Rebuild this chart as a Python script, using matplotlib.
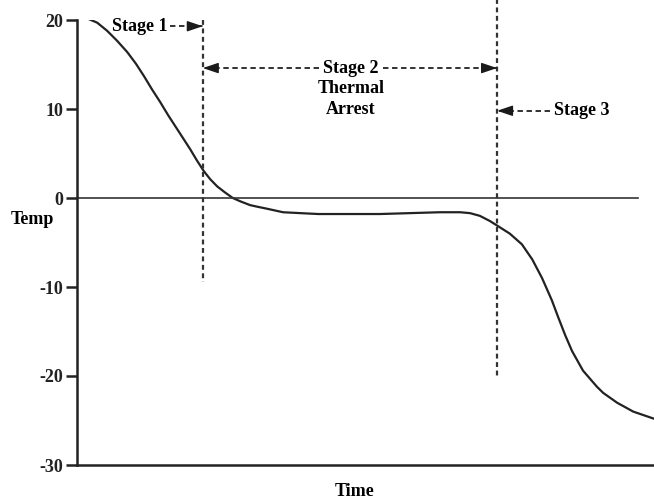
import numpy as np
import matplotlib.pyplot as plt

# cooling curve (time in arbitrary units 0-100)
time = [1.7, 3.5, 5.2, 6.9, 8.7, 10.2, 11.6, 13.0, 14.4, 15.8, 17.3, 18.5,
        19.6, 20.8, 22.0, 23.1, 24.3, 25.7, 27.0, 28.4, 30.0, 31.4, 32.9,
        35.7, 38.7, 41.8, 47.3, 52.5, 57.7, 62.9, 66.4, 68.1, 69.8, 71.6,
        73.3, 75.0, 77.1, 78.9, 80.6, 82.3, 83.4, 84.6, 85.8, 87.7, 90.1,
        91.2, 93.6, 96.4, 100.0]
temp = [20.2, 19.7, 18.8, 17.7, 16.4, 15.1, 13.7, 12.2, 10.8, 9.3, 7.8, 6.6,
        5.5, 4.2, 3.0, 2.1, 1.3, 0.6, 0.0, -0.4, -0.8, -1.0, -1.2,
        -1.6, -1.7, -1.8, -1.8, -1.8, -1.7, -1.6, -1.6, -1.7, -2.0, -2.6,
        -3.3, -4.0, -5.2, -6.9, -9.0, -11.5, -13.4, -15.4, -17.2, -19.4, -21.2,
        -21.9, -23.0, -24.0, -24.8]

yticks = [20, 10, 0, -10, -20, -30]

# stage boundaries
t_stage1 = 21.8
t_stage2 = 72.8

plt.rcParams['font.family'] = ['Liberation Serif', 'DejaVu Serif']
plt.rcParams['font.weight'] = 'bold'

fig = plt.figure(figsize=(6.54, 5.04), dpi=100)
ax = fig.add_axes([77 / 654, 39 / 504, 577 / 654, 445 / 504])

ax.plot(time, temp, color='#222222', lw=1.6)
ax.axhline(0, xmax=0.972, color='#333333', lw=1.2)

dash = (0, (2.2, 1.6))
ax.plot([t_stage1, t_stage1], [20, -9.4], color='#333333', lw=1.6, ls=dash)
ax.plot([t_stage2, t_stage2], [22.5, -20.1], color='#333333', lw=1.6, ls=dash,
        clip_on=False)

ax.set_xlim(0, 100)
ax.set_ylim(-30, 20)
ax.set_yticks(yticks)
ax.set_yticklabels([str(v) for v in yticks], fontsize=13, fontweight='bold',
                   color='#222222')
ax.set_xticks([])
ax.tick_params(axis='y', length=8, width=1.8, pad=2, color='#222222')
for s in ['top', 'right']:
    ax.spines[s].set_visible(False)
ax.spines['left'].set_linewidth(1.8)
ax.spines['bottom'].set_linewidth(1.8)
ax.spines['left'].set_color('#222222')
ax.spines['bottom'].set_color('#222222')

fs = 13
head = dict(arrowstyle='-|>,head_length=0.95,head_width=0.32',
            color='#1a1a1a', lw=1.0, shrinkA=0, shrinkB=0)


def dashed_arrow(x0, x1, y):
    # dashed shaft from x0 to x1, solid head at x1
    ax.plot([x0, x1], [y, y], color='#222222', lw=1.3, ls=(0, (3, 2)))
    step = 1.5 if x1 > x0 else -1.5
    ax.annotate('', xy=(x1, y), xytext=(x1 - step, y), arrowprops=head)


# stage 1
ax.text(15.6, 19.3, 'Stage 1', ha='right', va='center', fontsize=fs,
        fontweight='bold')
dashed_arrow(16.2, t_stage1, 19.3)

# stage 2
dashed_arrow(42.0, t_stage1, 14.6)
dashed_arrow(53.0, t_stage2, 14.6)
ax.text(47.5, 14.6, 'Stage 2', ha='center', va='center', fontsize=fs,
        fontweight='bold')
ax.text(47.5, 12.3, 'Thermal', ha='center', va='center', fontsize=fs,
        fontweight='bold')
ax.text(47.5, 10.0, 'Arrest', ha='center', va='center', fontsize=fs,
        fontweight='bold')

# stage 3
dashed_arrow(82.0, t_stage2, 9.8)
ax.text(82.6, 9.8, 'Stage 3', ha='left', va='center', fontsize=fs,
        fontweight='bold')

fig.text(32 / 654, 1 - 219 / 504, 'Temp', ha='center', va='center',
         fontsize=fs, fontweight='bold')
fig.text(355 / 654, 1 - 492 / 504, 'Time', ha='center', va='center',
         fontsize=fs, fontweight='bold')

fig.savefig('out.png', dpi=100)
